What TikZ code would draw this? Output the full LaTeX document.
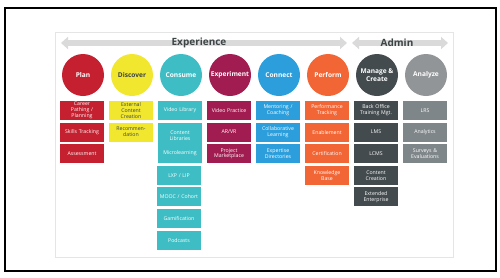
\documentclass[tikz,border=0pt]{standalone}
\usepackage{fontspec}
\setmainfont{Open Sans}
\usetikzlibrary{arrows.meta}
\definecolor{cplan}{HTML}{C4202F}
\definecolor{cdisc}{HTML}{F1E72F}
\definecolor{ccons}{HTML}{3EBEC4}
\definecolor{cexp}{HTML}{A11C50}
\definecolor{cconn}{HTML}{2B9EDB}
\definecolor{cperf}{HTML}{F26535}
\definecolor{cman}{HTML}{434B4E}
\definecolor{canac}{HTML}{929598}
\definecolor{canab}{HTML}{7F8689}
\definecolor{cbar}{HTML}{DADADA}
\definecolor{ctxt}{HTML}{3C4446}
\tikzset{
  circ/.style={circle, fill=#1, minimum size=42pt, inner sep=0pt, text=white,
    font=\fontsize{6.6}{8}\selectfont\bfseries, align=center},
  box/.style={rectangle, fill=#1, minimum width=44pt, minimum height=19pt, inner sep=0.5pt,
    text width=43pt, align=center, text=white, font=\fontsize{5.2}{5.9}\selectfont},
  bar/.style={cbar, line width=6pt, {Triangle[length=7pt,width=12pt]}-{Triangle[length=7pt,width=12pt]}},
  barlabel/.style={text=ctxt, font=\fontsize{10}{12}\selectfont\bfseries, inner sep=1pt}
}
\begin{document}
\begin{tikzpicture}[x=1pt,y=-1pt]
\useasboundingbox (0,0) rectangle (500,277);
\draw[line width=2pt] (5,8) rectangle (496,271);
\draw[cbar!70, line width=0.8pt] (55,32) rectangle (453,257);
% arrows
\coordinate (e1) at (61,43);
\coordinate (e2) at (347,43);
\coordinate (a1) at (352,43);
\coordinate (a2) at (448,43);
\draw[bar] (e1) -- (e2);
\draw[bar] (a1) -- (a2);
\node[barlabel] (exp) at (199,43) {Experience};
\node[barlabel] (adm) at (397,43) {Admin};
% circles
\node[circ=cplan] (c1) at (83,75) {Plan};
\node[circ=cdisc, text=ctxt] (c2) at (132,75) {Discover};
\node[circ=ccons] (c3) at (181,75) {Consume};
\node[circ=cexp] (c4) at (230,75) {Experiment};
\node[circ=cconn] (c5) at (279,75) {Connect};
\node[circ=cperf] (c6) at (328,75) {Perform};
\node[circ=cman] (c7) at (377,75) {Manage \&\\Create};
\node[circ=canac] (c8) at (426,75) {Analyze};
% Plan
\node[box=cplan] (p1) at (82,110.5) {Career\\Pathing /\\Planning};
\node[box=cplan] (p2) at (82,132.1) {Skills Tracking};
\node[box=cplan] (p3) at (82,153.7) {Assessment};
% Discover
\node[box=cdisc, text=ctxt] (d1) at (131,110.5) {External\\Content\\Creation};
\node[box=cdisc, text=ctxt] (d2) at (131,132.1) {Recommen-\\dation};
% Consume
\node[box=ccons] (s1) at (180,110.5) {Video Library};
\node[box=ccons, minimum height=40pt] (s2) at (180,143) {Content\\Libraries\\[8pt]Microlearning};
\node[box=ccons] (s3) at (179,175.3) {LXP / LIP};
\node[box=ccons] (s4) at (179,196.9) {MOOC / Cohort};
\node[box=ccons] (s5) at (179,218.5) {Gamification};
\node[box=ccons] (s6) at (179,240.1) {Podcasts};
% Experiment
\node[box=cexp] (x1) at (229,110.5) {Video Practice};
\node[box=cexp] (x2) at (229,132.1) {AR/VR};
\node[box=cexp] (x3) at (229,153.7) {Project\\Marketplace};
% Connect
\node[box=cconn] (n1) at (278,110.5) {Mentoring /\\Coaching};
\node[box=cconn] (n2) at (278,132.1) {Collaborative\\Learning};
\node[box=cconn] (n3) at (278,153.7) {Expertise\\Directories};
% Perform
\node[box=cperf] (f1) at (327,110.5) {Performance\\Tracking};
\node[box=cperf] (f2) at (327,132.1) {Enablement};
\node[box=cperf] (f3) at (327,153.7) {Certification};
\node[box=cperf] (f4) at (327,175.3) {Knowledge\\Base};
% Manage
\node[box=cman] (m1) at (376,110.5) {Back Office\\Training Mgt.};
\node[box=cman] (m2) at (376,132.1) {LMS};
\node[box=cman] (m3) at (376,153.7) {LCMS};
\node[box=cman] (m4) at (376,175.3) {Content\\Creation};
\node[box=cman] (m5) at (376,196.9) {Extended\\Enterprise};
% Analyze
\node[box=canab] (y1) at (425,110.5) {LRS};
\node[box=canab] (y2) at (425,132.1) {Analytics};
\node[box=canab] (y3) at (425,153.7) {Surveys \&\\Evaluations};
\end{tikzpicture}
\end{document}
